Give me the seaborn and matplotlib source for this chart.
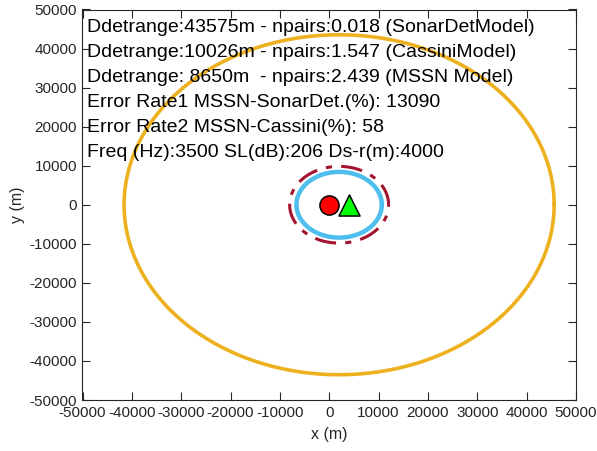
import numpy as np
import pandas as pd
import matplotlib
matplotlib.use("Agg")
import matplotlib.pyplot as plt
import seaborn as sns

# Detection ranges (m) of the three models and their npairs
models = ["SonarDetModel", "CassiniModel", "MSSN Model"]
ddetrange = [43575, 10026, 8650]
npairs = [0.018, 1.547, 2.439]
line_colors = ["#EDB120", "#A2142F", "#4DBEEE"]
line_styles = ["-", "-.", "-"]
line_widths = [2.6, 2.2, 3.2]

# Source / receiver geometry
source_xy = (0, 0)
receiver_xy = (4000, 0)

# Scenario parameters
freq_hz = 3500
sl_db = 206
ds_r = 4000
error_rate1 = 13090
error_rate2 = 58

ticks = list(range(-50000, 50001, 10000))

sns.set_theme(style="ticks", rc={
    "xtick.direction": "in", "ytick.direction": "in",
    "xtick.top": True, "ytick.right": True,
    "xtick.major.size": 5.5, "ytick.major.size": 5.5,
    "xtick.major.width": 0.8, "ytick.major.width": 0.8,
})
plt.rcParams["font.family"] = ["Liberation Sans", "DejaVu Sans"]
plt.rcParams["axes.unicode_minus"] = False

fig = plt.figure(figsize=(5.97, 4.51), dpi=100)
ax = fig.add_axes([82.5 / 597, (451 - 400) / 451, (576 - 82.5) / 597, (400 - 9.5) / 451])

# Ellipse of constant detection range around the midpoint of source and receiver
cx = (source_xy[0] + receiver_xy[0]) / 2
c = (receiver_xy[0] - source_xy[0]) / 2
theta = np.linspace(0, 2 * np.pi, 721)
frames = []
for name, d in zip(models, ddetrange):
    b = np.sqrt(d ** 2 - c ** 2)
    frames.append(pd.DataFrame({"x": cx + d * np.cos(theta),
                                "y": b * np.sin(theta),
                                "model": name,
                                "order": np.arange(theta.size)}))
curves = pd.concat(frames, ignore_index=True)

for name, col, ls, lw in zip(models, line_colors, line_styles, line_widths):
    sub = curves[curves["model"] == name]
    sns.lineplot(data=sub, x="x", y="y", sort=False, color=col, linewidth=lw,
                 linestyle=ls, ax=ax, estimator=None, zorder=2)
    if ls == "-.":
        ax.lines[-1].set_dashes([7, 3, 2, 3])

pts = pd.DataFrame({"x": [source_xy[0], receiver_xy[0]],
                    "y": [source_xy[1], receiver_xy[1]],
                    "kind": ["source", "receiver"]})
sns.scatterplot(data=pts[pts.kind == "source"], x="x", y="y", marker="o", s=190,
                color="#FF0000", edgecolor="black", linewidth=1.1, ax=ax, zorder=4)
sns.scatterplot(data=pts[pts.kind == "receiver"], x="x", y="y", marker="^", s=230,
                color="#00FF00", edgecolor="black", linewidth=1.1, ax=ax, zorder=4)

ax.set_xlim(-50000, 50000)
ax.set_ylim(-50000, 50000)
ax.set_xticks(ticks)
ax.set_yticks(ticks)
ax.set_xlabel("x (m)", fontsize=11.5, color="#262626", labelpad=5)
ax.set_ylabel("y (m)", fontsize=11.5, color="#262626", labelpad=3)
ax.tick_params(axis="both", which="major", direction="in", length=5.5, width=0.8,
               bottom=True, left=True, top=True, right=True,
               labelsize=11, colors="#262626", pad=4)
for s in ax.spines.values():
    s.set_visible(True)
    s.set_color("#262626")
    s.set_linewidth(0.8)

lines = [
    f"Ddetrange:{ddetrange[0]}m - npairs:{npairs[0]:.3f} ({models[0]})",
    f"Ddetrange:{ddetrange[1]}m - npairs:{npairs[1]:.3f} ({models[1]})",
    f"Ddetrange: {ddetrange[2]}m  - npairs:{npairs[2]:.3f} ({models[2]})",
    f"Error Rate1 MSSN-SonarDet.(%): {error_rate1}",
    f"Error Rate2 MSSN-Cassini(%): {error_rate2}",
    f"Freq (Hz):{freq_hz} SL(dB):{sl_db} Ds-r(m):{ds_r}",
]
for i, t in enumerate(lines):
    ax.text(0.009, 0.955 - i * 0.064, t, transform=ax.transAxes, fontsize=14,
            va="center", ha="left", color="black", zorder=5)

fig.savefig("out.png", dpi=100)
